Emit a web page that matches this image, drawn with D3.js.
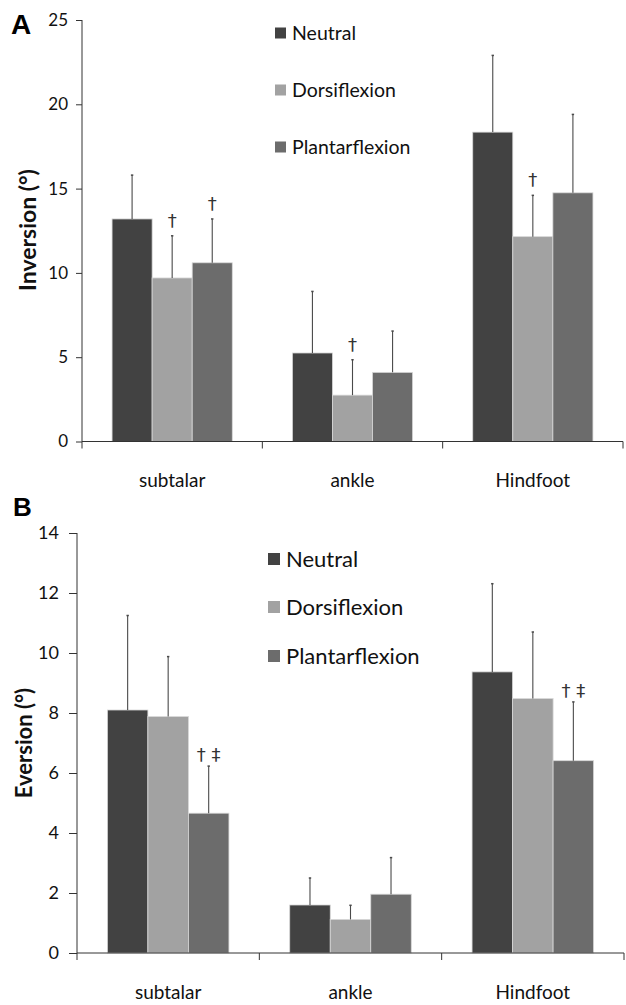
<!DOCTYPE html>
<html>
<head>
<meta charset="utf-8">
<script src="https://cdn.jsdelivr.net/npm/d3@7"></script>
<style>
  html, body { margin: 0; padding: 0; background: #fff; }
  svg { display: block; }
</style>
</head>
<body>
<svg id="chart"></svg>
<script>
const categories = ["subtalar", "ankle", "Hindfoot"];
const seriesNames = ["Neutral", "Dorsiflexion", "Plantarflexion"];
const seriesColors = ["#424242", "#a2a2a2", "#6c6c6c"];

// panel A: inversion, mean and sd per category (rows) per series (cols)
const inversionMean = [
  [13.2, 9.7, 10.6],
  [5.25, 2.75, 4.1],
  [18.35, 12.15, 14.75]
];
const inversionSd = [
  [2.6, 2.5, 2.6],
  [3.65, 2.1, 2.45],
  [4.55, 2.45, 4.65]
];
const inversionMarks = [
  ["", "\u2020", "\u2020"],
  ["", "\u2020", ""],
  ["", "\u2020", ""]
];
const inversionTicks = [0, 5, 10, 15, 20, 25];

// panel B: eversion
const eversionMean = [
  [8.1, 7.88, 4.66],
  [1.6, 1.12, 1.96],
  [9.37, 8.48, 6.41]
];
const eversionSd = [
  [3.15, 2.0, 1.57],
  [0.9, 0.47, 1.22],
  [2.94, 2.22, 1.96]
];
const eversionMarks = [
  ["", "", "\u2020 \u2021"],
  ["", "", ""],
  ["", "", "\u2020 \u2021"]
];
const eversionTicks = [0, 2, 4, 6, 8, 10, 12, 14];

const fontFamily = "Lato, 'Open Sans', sans-serif";

const svg = d3.select("#chart").attr("width", 626).attr("height", 1005);

function drawPanel(opts) {
  const g = svg.append("g");

  const x = d3.scaleBand()
    .domain(categories)
    .range([opts.left, opts.right]);

  const xInner = d3.scaleBand()
    .domain(seriesNames)
    .range([0, x.bandwidth()])
    .paddingOuter(0.75)
    .paddingInner(0);

  const y = d3.scaleLinear()
    .domain([0, opts.max])
    .range([opts.bottom, opts.top]);

  // bars
  const rows = [];
  categories.forEach(function (cat, i) {
    seriesNames.forEach(function (s, j) {
      rows.push({ cat: cat, series: s, j: j, mean: opts.mean[i][j], sd: opts.sd[i][j], mark: opts.marks[i][j] });
    });
  });

  g.selectAll(".bar")
    .data(rows)
    .enter()
    .append("rect")
    .attr("x", function (d) { return x(d.cat) + xInner(d.series); })
    .attr("y", function (d) { return y(d.mean); })
    .attr("width", xInner.bandwidth())
    .attr("height", function (d) { return y(0) - y(d.mean); })
    .attr("fill", function (d) { return seriesColors[d.j]; })
    .attr("stroke", "#d8d8d8")
    .attr("stroke-width", 0.8);

  // error bars (upper only)
  const cx = function (d) { return x(d.cat) + xInner(d.series) + xInner.bandwidth() / 2; };
  g.selectAll(".err")
    .data(rows)
    .enter()
    .append("line")
    .attr("x1", cx)
    .attr("x2", cx)
    .attr("y1", function (d) { return y(d.mean); })
    .attr("y2", function (d) { return y(d.mean + d.sd); })
    .attr("stroke", "#4a4a4a")
    .attr("stroke-width", 1.1);

  g.selectAll(".cap")
    .data(rows)
    .enter()
    .append("line")
    .attr("x1", function (d) { return cx(d) - 1.2; })
    .attr("x2", function (d) { return cx(d) + 1.2; })
    .attr("y1", function (d) { return y(d.mean + d.sd); })
    .attr("y2", function (d) { return y(d.mean + d.sd); })
    .attr("stroke", "#4a4a4a")
    .attr("stroke-width", 1.5);

  // significance marks
  g.selectAll(".mark")
    .data(rows.filter(function (d) { return d.mark !== ""; }))
    .enter()
    .append("text")
    .attr("x", cx)
    .attr("y", function (d) { return y(d.mean + d.sd) - opts.markGap; })
    .attr("text-anchor", "middle")
    .style("font-family", "'DejaVu Sans', sans-serif")
    .style("font-size", opts.markSize + "px")
    .style("fill", "#333")
    .text(function (d) { return d.mark; });

  // y axis
  const yAxis = g.append("g")
    .attr("transform", "translate(" + opts.left + ",0)")
    .call(d3.axisLeft(y).tickValues(opts.ticks).tickSizeOuter(0).tickSize(opts.tickSize).tickPadding(opts.tickPad));
  yAxis.select(".domain").attr("stroke", "#333").attr("d", "M0," + opts.bottom + "V" + opts.top);
  yAxis.selectAll(".tick line").attr("stroke", "#333");
  yAxis.selectAll("text")
    .style("font-family", fontFamily)
    .style("font-size", opts.tickFont + "px")
    .style("fill", "#111");

  // x axis
  g.append("line")
    .attr("x1", opts.left)
    .attr("x2", opts.right)
    .attr("y1", opts.bottom)
    .attr("y2", opts.bottom)
    .attr("stroke", "#333");

  const bounds = categories.map(function (c) { return x(c); }).concat([opts.right]);
  g.selectAll(".ctick")
    .data(bounds)
    .enter()
    .append("line")
    .attr("x1", function (d) { return d; })
    .attr("x2", function (d) { return d; })
    .attr("y1", opts.bottom)
    .attr("y2", opts.bottom + 7)
    .attr("stroke", "#333");

  g.selectAll(".clabel")
    .data(categories)
    .enter()
    .append("text")
    .attr("x", function (d) { return x(d) + x.bandwidth() / 2; })
    .attr("y", opts.catY)
    .attr("text-anchor", "middle")
    .style("font-family", fontFamily)
    .style("font-size", opts.catFont + "px")
    .style("fill", "#111")
    .text(function (d) { return d; });

  // y label
  g.append("text")
    .attr("transform", "translate(" + opts.yLabelX + "," + opts.yLabelY + ") rotate(-90)")
    .attr("text-anchor", "middle")
    .style("font-family", fontFamily)
    .style("font-weight", "700")
    .style("font-size", opts.yLabelFont + "px")
    .style("fill", "#111")
    .text(opts.yLabel);

  // legend
  const legend = g.selectAll(".legend")
    .data(seriesNames)
    .enter()
    .append("g")
    .attr("transform", function (d, i) {
      return "translate(" + opts.legendX + "," + opts.legendY[i] + ")";
    });
  legend.append("rect")
    .attr("x", 0)
    .attr("y", -opts.legendBox / 2)
    .attr("width", opts.legendBox)
    .attr("height", opts.legendBox)
    .attr("fill", function (d, i) { return seriesColors[i]; });
  legend.append("text")
    .attr("x", opts.legendBox + 6)
    .attr("y", 0)
    .attr("dy", "0.35em")
    .style("font-family", fontFamily)
    .style("font-size", opts.legendFont + "px")
    .style("fill", "#111")
    .text(function (d) { return d; });

  // panel letter
  g.append("text")
    .attr("x", opts.letterX)
    .attr("y", opts.letterY)
    .style("font-family", "'Liberation Sans', Arial, sans-serif")
    .style("font-weight", "700")
    .style("font-size", opts.letterSize + "px")
    .style("fill", "#000")
    .text(opts.letter);
}

drawPanel({
  letter: "A", letterX: 11, letterY: 34, letterSize: 28,
  left: 82, right: 623, top: 20, bottom: 441.5, max: 25,
  mean: inversionMean, sd: inversionSd, marks: inversionMarks, ticks: inversionTicks,
  tickSize: 6, tickPad: 8, tickFont: 17,
  catY: 487, catFont: 19,
  yLabel: "Inversion (\u00b0)", yLabelX: 36, yLabelY: 230, yLabelFont: 23,
  legendX: 275, legendY: [33, 90, 147], legendBox: 11, legendFont: 19.5,
  markGap: 9, markSize: 18
});

drawPanel({
  letter: "B", letterX: 13, letterY: 516, letterSize: 26,
  left: 77, right: 624, top: 533, bottom: 953, max: 14,
  mean: eversionMean, sd: eversionSd, marks: eversionMarks, ticks: eversionTicks,
  tickSize: 8, tickPad: 10, tickFont: 18,
  catY: 999, catFont: 19,
  yLabel: "Eversion (\u00b0)", yLabelX: 32, yLabelY: 743, yLabelFont: 22,
  legendX: 268, legendY: [559, 607, 656], legendBox: 12, legendFont: 22,
  markGap: 5, markSize: 18
});
</script>
</body>
</html>
